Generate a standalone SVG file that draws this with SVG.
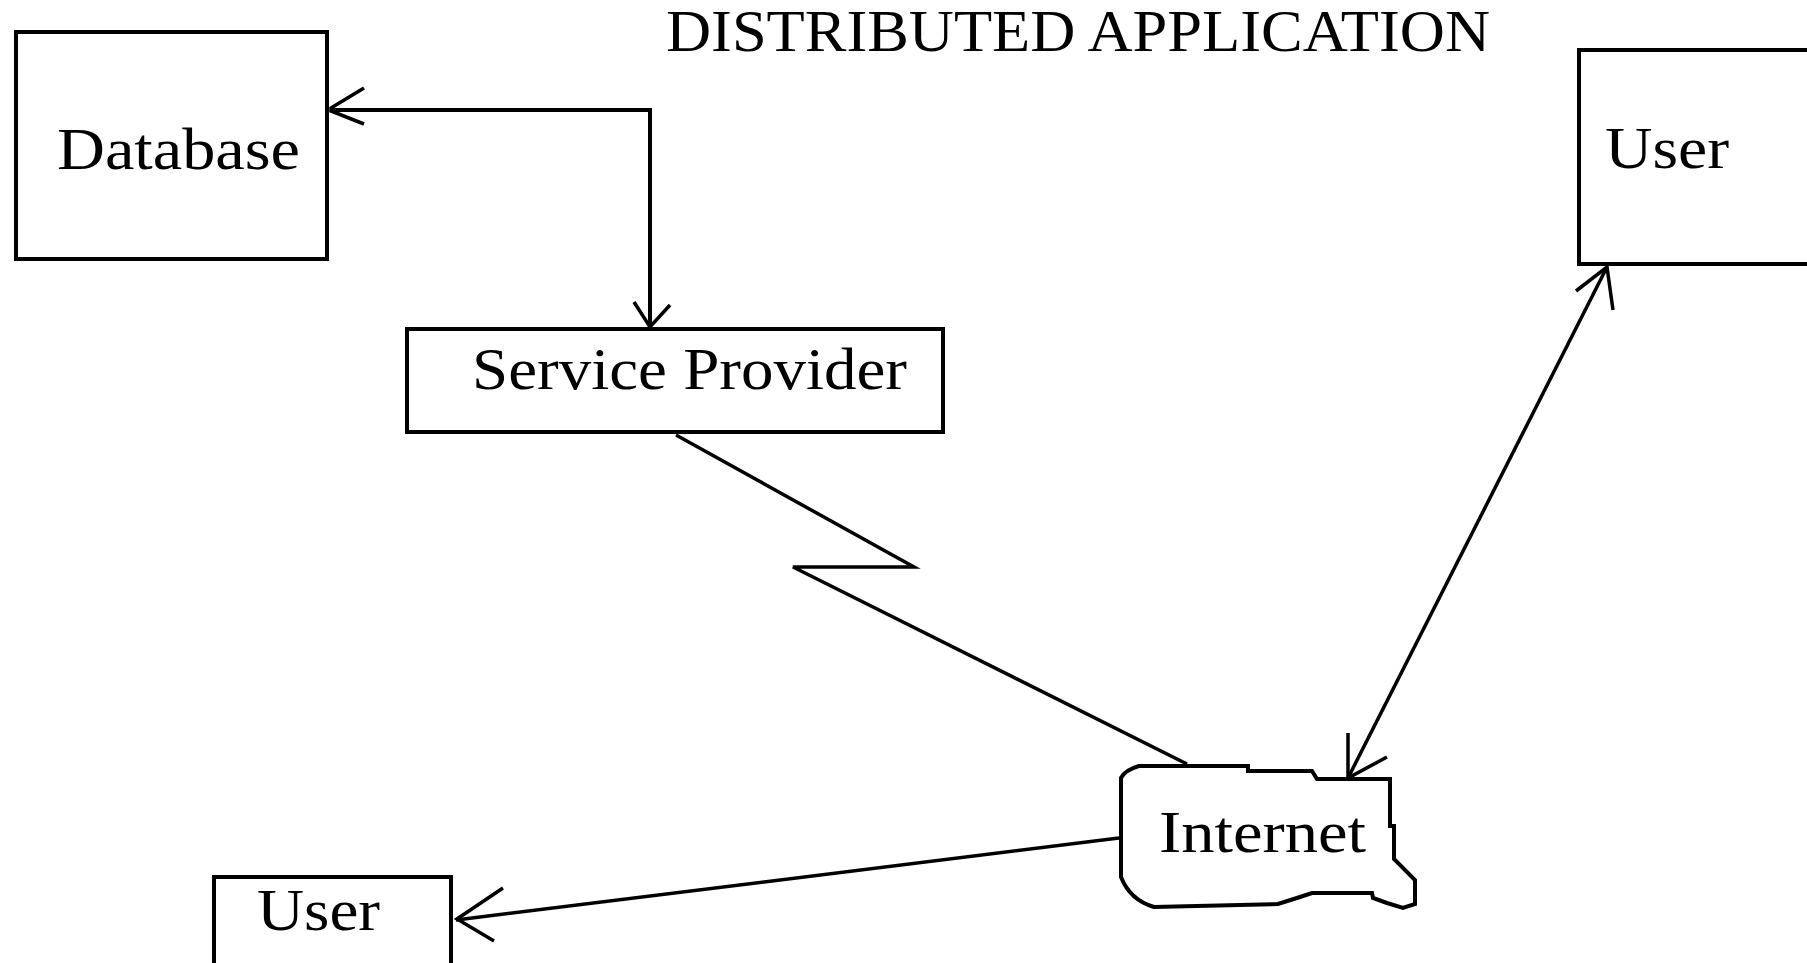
<svg xmlns="http://www.w3.org/2000/svg" width="1807" height="963" viewBox="0 0 1807 963">
<style>
.box{fill:#fff;stroke:#000;stroke-width:4}
.lbl{font-family:"Liberation Serif","Times New Roman",serif;font-size:59px;fill:#000}
.conn{fill:none;stroke:#000;stroke-width:4}
.diag{fill:none;stroke:#000;stroke-width:3.5}
.head{fill:none;stroke:#000;stroke-width:3.5}
</style>
<rect x="0" y="0" width="1807" height="963" fill="#fff"/>
<text id="title" class="lbl" x="666" y="51" textLength="824" lengthAdjust="spacingAndGlyphs">DISTRIBUTED APPLICATION</text>
<g id="connectors">
  <polyline class="conn" points="331,110 650,110 650,327"/>
  <polyline class="head" points="364,88 331,108 331,111 364,124"/>
  <polyline class="head" points="634,302 650,327 670,305"/>
  <polyline class="diag" points="676,435 914,567 793,567 1187,764"/>
  <line class="diag" x1="1127" y1="837" x2="456" y2="920"/>
  <polyline class="head" points="503,888 457,919 494,941"/>
  <line class="diag" x1="1348" y1="778" x2="1607" y2="267"/>
  <polyline class="head" points="1348,733 1348,778 1387,757"/>
  <polyline class="head" points="1576,291 1607,267 1613,310"/>
</g>
<g id="database">
  <rect class="box" x="16" y="32" width="311" height="227"/>
  <text class="lbl" x="57" y="169" textLength="243" lengthAdjust="spacingAndGlyphs">Database</text>
</g>
<g id="service-provider">
  <rect class="box" x="407" y="329" width="536" height="103"/>
  <text class="lbl" x="472" y="389" textLength="435" lengthAdjust="spacingAndGlyphs">Service Provider</text>
</g>
<g id="internet">
  <path class="box" d="M1139,766 L1248,766 L1248,771 L1312,771 L1317,779 L1390,779 L1390,826 L1394,826 L1394,859 L1415,880 L1415,904 L1403,908 L1387,903 L1373,898 L1372,893 L1312,893 L1300,897 L1278,904 L1154,907 Q1130,900 1121,877 L1121,778 Q1125,770 1139,766 Z"/>
  <text class="lbl" x="1159" y="852" textLength="207" lengthAdjust="spacingAndGlyphs">Internet</text>
</g>
<g id="user-top">
  <rect class="box" x="1579" y="50" width="300" height="214"/>
  <text class="lbl" x="1605" y="168" textLength="124" lengthAdjust="spacingAndGlyphs">User</text>
</g>
<g id="user-bottom">
  <rect class="box" x="214" y="877" width="237" height="120"/>
  <text class="lbl" x="257" y="930" textLength="123" lengthAdjust="spacingAndGlyphs">User</text>
</g>
</svg>
